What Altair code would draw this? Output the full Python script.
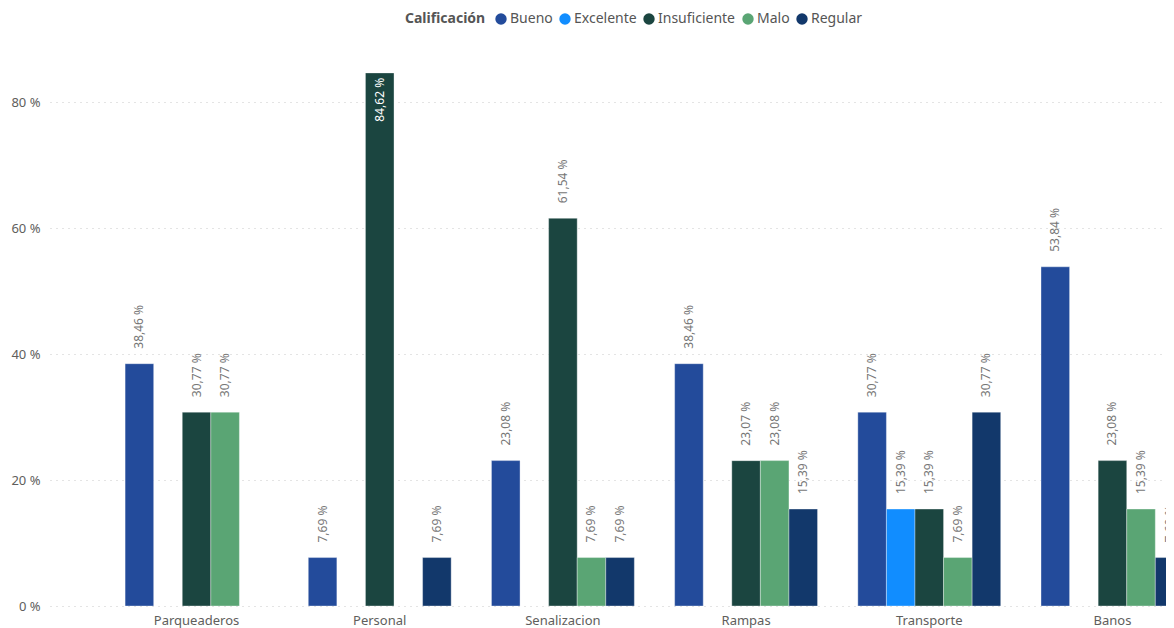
import altair as alt
import pandas as pd

categories = ["Parqueaderos", "Personal", "Senalizacion", "Rampas", "Transporte", "Banos"]
series = ["Bueno", "Excelente", "Insuficiente", "Malo", "Regular"]
colors = ["#234B9B", "#118DFF", "#1B4540", "#5AA574", "#12386B"]

bueno = [38.46, 7.69, 23.08, 38.46, 30.77, 53.84]
excelente = [None, None, None, None, 15.39, None]
insuficiente = [30.77, 84.62, 61.54, 23.07, 15.39, 23.08]
malo = [30.77, None, 7.69, 23.08, 7.69, 15.39]
regular = [None, 7.69, 7.69, 15.39, 30.77, 7.69]

rows = []
for s, vals in zip(series, [bueno, excelente, insuficiente, malo, regular]):
    for c, v in zip(categories, vals):
        if v is not None:
            rows.append({"Categoria": c, "Calificación": s, "Valor": v,
                         "Etiqueta": f"{v:.2f}".replace(".", ",") + " %"})
df = pd.DataFrame(rows)

FONT = "Noto Sans"

x = alt.X("Categoria:N", sort=categories, title=None,
          scale=alt.Scale(paddingInner=0.22, paddingOuter=0.41, range=[0, 1209]),
          axis=alt.Axis(labelAngle=0, ticks=False, domain=False, labelPadding=8,
                        labelFontSize=13, labelColor="#605E5C", labelFont=FONT))
xo = alt.XOffset("Calificación:N", sort=series,
                 scale=alt.Scale(domain=series, paddingInner=0, paddingOuter=0))
y = alt.Y("Valor:Q", title=None,
          scale=alt.Scale(domain=[0, 90], nice=False),
          axis=alt.Axis(values=[0, 20, 40, 60, 80], labelExpr="datum.value + ' %'",
                        ticks=False, domain=False, labelPadding=10,
                        labelFontSize=13, labelColor="#605E5C", labelFont=FONT,
                        grid=True, gridDash=[1, 5], gridColor="#C8C8C8", gridWidth=1))

color = alt.Color("Calificación:N", sort=series,
                  scale=alt.Scale(domain=series, range=colors),
                  legend=alt.Legend(orient="none", legendX=355, legendY=-27,
                                    direction="horizontal", titleOrient="left",
                                    title="Calificación", titleFontSize=14,
                                    titleFont=FONT, titleFontWeight="bold",
                                    titleColor="#555555", titlePadding=8,
                                    labelFontSize=14, labelFont=FONT,
                                    labelColor="#555555", labelOffset=2,
                                    labelLimit=200,
                                    symbolType="circle", symbolSize=130,
                                    symbolStrokeWidth=0, columnPadding=5))

base = alt.Chart(df).encode(x=x, xOffset=xo, y=y)

bars = base.mark_bar(stroke="#FFFFFF", strokeOpacity=0.35, strokeWidth=1, clip=True).encode(color=color)

outside = base.transform_filter("datum.Valor < 80").mark_text(
    angle=270, align="left", baseline="middle", dx=15, clip=True,
    fontSize=12, font=FONT, color="#777777").encode(text="Etiqueta:N")

inside = base.transform_filter("datum.Valor >= 80").mark_text(
    angle=270, align="right", baseline="middle", dx=-5, clip=True,
    fontSize=12, font=FONT, color="#FFFFFF").encode(text="Etiqueta:N")

chart = (bars + outside + inside).properties(
    width=1116, height=567,
    autosize=alt.AutoSizeParams(type="none"),
    padding={"left": 42, "top": 31, "right": 0, "bottom": 30},
).configure_view(stroke=None)

chart.save("out.html", embed_options={"renderer": "svg", "actions": False})
